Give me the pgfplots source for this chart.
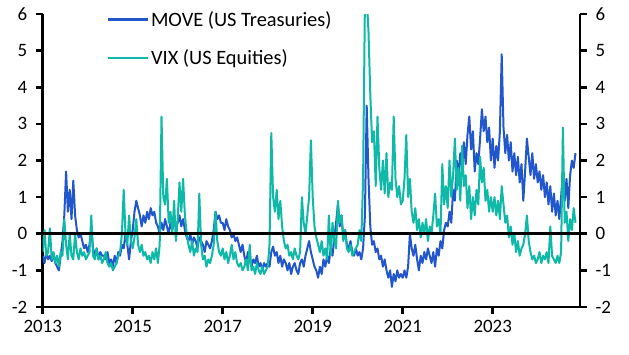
\documentclass[border=0pt]{standalone}
\usepackage{pgfplots}
\usepackage{pgfplotstable}
\pgfplotsset{compat=1.18}
\usepackage{fontspec}
\setmainfont{Carlito}
\definecolor{moveblue}{RGB}{33,86,204}
\definecolor{vixteal}{RGB}{14,185,168}

\pgfplotstableread{
t m v
2013.00 -0.6 -0.5
2013.04 -0.8 0.1
2013.08 -0.5 -0.6
2013.12 -0.7 -0.5
2013.16 -0.6 0.15
2013.20 -0.75 -0.7
2013.24 -0.55 -0.5
2013.28 -0.8 -0.8
2013.32 -0.9 -0.6
2013.36 -1.0 -0.9
2013.40 -0.6 -0.5
2013.44 -0.2 -0.6
2013.48 0.5 0.4
2013.52 1.7 -0.3
2013.56 0.6 -0.7
2013.60 1.2 0.0
2013.64 0.4 -0.6
2013.68 1.45 -0.7
2013.72 0.5 0.0
2013.76 0.1 -0.5
2013.80 -0.1 -0.7
2013.84 0.0 -0.4
2013.88 -0.2 -0.6
2013.92 -0.4 -0.5
2013.96 -0.3 -0.7
2014.00 -0.5 -0.6
2014.04 -0.3 -0.5
2014.08 0.1 0.5
2014.12 -0.4 -0.6
2014.16 -0.6 -0.7
2014.20 -0.4 -0.4
2014.24 -0.7 -0.7
2014.28 -0.5 -0.6
2014.32 -0.6 -0.8
2014.36 -0.6 -0.7
2014.40 -0.7 -0.5
2014.44 -0.5 -0.8
2014.48 -0.8 -0.9
2014.52 -0.7 -0.8
2014.56 -0.9 -1.0
2014.60 -0.6 -0.9
2014.64 -0.8 -0.8
2014.68 -0.5 -0.6
2014.72 -0.6 -0.5
2014.76 -0.3 0.0
2014.80 -0.4 1.2
2014.84 0.0 0.0
2014.88 -0.3 -0.3
2014.92 -0.7 0.5
2014.96 -0.2 -0.2
2015.00 0.1 -0.4
2015.04 0.6 -0.1
2015.08 0.9 0.4
2015.12 0.7 -0.3
2015.16 0.5 -0.5
2015.20 0.2 -0.3
2015.24 0.5 -0.6
2015.28 0.3 -0.5
2015.32 0.6 -0.7
2015.36 0.4 -0.6
2015.40 0.7 -0.8
2015.44 0.5 -0.5
2015.48 0.6 -0.7
2015.52 0.3 -0.4
2015.56 0.2 -0.8
2015.60 0.0 -0.3
2015.64 0.3 3.2
2015.68 0.1 1.0
2015.72 0.4 0.8
2015.76 0.2 1.5
2015.80 0.0 0.3
2015.84 0.3 0.6
2015.88 0.1 0.0
2015.92 0.4 0.9
2015.96 0.2 -0.2
2016.00 0.3 0.4
2016.04 0.5 1.4
2016.08 0.2 0.6
2016.12 0.4 1.5
2016.16 0.1 0.5
2016.20 -0.1 0.0
2016.24 -0.2 -0.3
2016.28 0.0 -0.5
2016.32 -0.3 -0.2
2016.36 -0.1 -0.6
2016.40 -0.2 -0.4
2016.44 -0.4 -0.5
2016.48 -0.1 1.1
2016.52 -0.2 -0.3
2016.56 -0.3 -0.7
2016.60 -0.5 -0.6
2016.64 -0.2 -0.9
2016.68 -0.3 -0.7
2016.72 -0.4 -0.8
2016.76 -0.2 -0.6
2016.80 0.1 -0.3
2016.84 0.6 0.6
2016.88 0.4 -0.2
2016.92 0.5 -0.5
2016.96 0.3 -0.6
2017.00 0.3 -0.4
2017.04 0.1 -0.7
2017.08 0.4 -0.5
2017.12 0.2 -0.8
2017.16 0.1 -0.6
2017.20 -0.1 -0.3
2017.24 0.0 -0.7
2017.28 -0.2 -0.5
2017.32 -0.1 -0.8
2017.36 -0.3 -0.9
2017.40 -0.5 -0.8
2017.44 -0.3 -1.0
2017.48 -0.6 -0.9
2017.52 -0.8 -0.7
2017.56 -0.5 -1.0
2017.60 -0.7 -0.3
2017.64 -0.9 -1.0
2017.68 -0.7 -0.9
2017.72 -0.8 -1.1
2017.76 -0.6 -0.8
2017.80 -0.9 -1.0
2017.84 -0.8 -1.1
2017.88 -1.0 -0.9
2017.92 -0.8 -1.1
2017.96 -0.9 -1.0
2018.00 -0.8 -0.9
2018.04 -0.9 -0.3
2018.08 -0.5 2.75
2018.12 -0.35 1.0
2018.16 -0.6 0.6
2018.20 -0.5 1.2
2018.24 -0.8 0.4
2018.28 -0.6 0.9
2018.32 -0.9 0.2
2018.36 -0.7 -0.2
2018.40 -0.8 -0.4
2018.44 -1.0 -0.3
2018.48 -0.8 -0.6
2018.52 -1.1 -0.5
2018.56 -0.9 -0.7
2018.60 -0.8 -0.4
2018.64 -1.0 -0.6
2018.68 -1.1 -0.7
2018.72 -0.8 -0.5
2018.76 -0.7 1.0
2018.80 -0.9 0.3
2018.84 -0.6 0.0
2018.88 -0.4 0.5
2018.92 -0.2 1.0
2018.96 -0.5 2.55
2019.00 -0.7 1.0
2019.04 -0.9 0.2
2019.08 -1.0 -0.1
2019.12 -1.2 -0.3
2019.16 -0.9 -0.5
2019.20 -1.1 -0.2
2019.24 -0.7 -0.6
2019.28 -0.9 -0.4
2019.32 -0.6 -0.7
2019.36 -0.8 0.5
2019.40 -0.4 -0.6
2019.44 -0.6 0.3
2019.48 -0.1 -0.2
2019.52 0.3 -0.4
2019.56 0.8 0.9
2019.60 0.2 0.3
2019.64 0.5 0.5
2019.68 -0.1 -0.2
2019.72 0.1 0.1
2019.76 -0.3 -0.4
2019.80 -0.4 -0.5
2019.84 -0.2 -0.3
2019.88 -0.5 -0.6
2019.92 -0.6 -0.5
2019.96 -0.4 -0.4
2020.00 -0.6 -0.3
2020.04 -0.5 0.1
2020.08 -0.7 -0.2
2020.12 -0.4 1.5
2020.16 0.5 6.3
2020.20 3.5 6.5
2020.24 1.5 5.5
2020.28 0.2 3.8
2020.32 -0.3 2.5
2020.36 -0.2 2.8
2020.40 -0.5 1.3
2020.44 -0.4 3.2
2020.48 -0.7 1.8
2020.52 -0.6 1.2
2020.56 -0.9 2.0
2020.60 -0.7 1.1
2020.64 -1.0 2.2
2020.68 -1.2 1.0
2020.72 -1.0 1.4
2020.76 -1.45 1.2
2020.80 -1.1 3.2
2020.84 -1.3 1.5
2020.88 -1.0 1.0
2020.92 -1.2 1.3
2020.96 -1.1 0.8
2021.00 -1.2 0.9
2021.04 -1.0 1.5
2021.08 -1.2 2.7
2021.12 -0.9 1.0
2021.16 0.0 1.5
2021.20 -0.4 0.6
2021.24 -0.6 0.3
2021.28 -0.3 0.7
2021.32 -0.7 0.1
2021.36 -1.0 0.4
2021.40 -0.6 -0.1
2021.44 -0.8 0.3
2021.48 -0.5 0.0
2021.52 -0.7 0.4
2021.56 -0.4 -0.2
2021.60 -0.6 0.2
2021.64 -0.8 0.0
2021.68 -0.5 0.5
2021.72 -0.9 1.1
2021.76 -0.4 0.2
2021.80 -0.6 0.4
2021.84 -0.2 0.0
2021.88 -0.4 1.9
2021.92 0.1 0.8
2021.96 0.3 1.3
2022.00 0.2 0.7
2022.04 0.6 2.0
2022.08 0.3 1.0
2022.12 1.2 1.6
2022.16 0.9 2.6
2022.20 2.0 1.2
2022.24 1.6 1.8
2022.28 2.2 0.9
2022.32 1.8 2.4
2022.36 2.5 1.3
2022.40 1.9 1.6
2022.44 2.7 0.7
2022.48 3.2 1.3
2022.52 2.3 0.4
2022.56 2.8 1.0
2022.60 1.7 0.5
2022.64 2.2 1.2
2022.68 1.9 0.8
2022.72 2.6 2.1
2022.76 3.4 1.4
2022.80 2.8 1.8
2022.84 3.2 0.9
2022.88 2.5 1.2
2022.92 2.9 0.6
2022.96 2.0 1.0
2023.00 2.6 0.6
2023.04 1.8 1.0
2023.08 2.4 0.5
2023.12 2.0 0.9
2023.16 2.8 0.4
2023.20 4.9 1.3
2023.24 2.9 0.8
2023.28 2.2 0.3
2023.32 2.7 0.5
2023.36 2.0 -0.1
2023.40 2.5 0.2
2023.44 1.7 -0.3
2023.48 2.2 0.0
2023.52 1.6 -0.5
2023.56 2.1 -0.2
2023.60 1.4 -0.6
2023.64 1.9 -0.4
2023.68 0.9 -0.3
2023.72 1.7 0.0
2023.76 2.6 0.5
2023.80 2.1 -0.2
2023.84 1.6 -0.5
2023.88 2.2 -0.7
2023.92 1.5 -0.6
2023.96 1.9 -0.8
2024.00 1.4 -0.7
2024.04 1.7 -0.5
2024.08 1.2 -0.8
2024.12 1.6 -0.6
2024.16 1.0 -0.7
2024.20 1.4 -0.5
2024.24 0.8 -0.8
2024.28 1.3 0.2
2024.32 0.6 -0.6
2024.36 1.1 -0.7
2024.40 0.5 -0.8
2024.44 0.9 -0.6
2024.48 0.4 -0.8
2024.52 1.0 -0.5
2024.56 1.7 2.9
2024.60 0.9 0.3
2024.64 1.5 0.6
2024.68 0.7 -0.2
2024.72 1.6 0.4
2024.76 2.0 0.1
2024.80 1.8 0.7
2024.84 2.2 0.3
}\data

\begin{document}
\begin{tikzpicture}
\path[use as bounding box] (-42.7bp,-48bp) rectangle (586.3bp,307bp);
\pgfplotsset{
  common/.style={
    scale only axis, width=537.3bp, height=293bp,
    xmin=2013, xmax=2024.94, ymin=-2, ymax=6,
    font=\fontsize{19}{22}\selectfont,
    tick align=outside, major tick length=7bp,
    tick style={black, line width=2.6bp},
    axis line style={black, line width=2.6bp},
    /pgf/number format/assume math mode=true,
    ytick={-2,-1,0,1,2,3,4,5,6},
  }
}
\begin{axis}[common,
  separate axis lines,
  axis x line*=bottom, axis y line*=left,
  xtick={2013,2015,2017,2019,2021,2023},
  xticklabel style={yshift=-3bp},
  xticklabel={\pgfmathprintnumber[1000 sep={},fixed]{\tick}},
  yticklabel style={xshift=-5bp},
  legend style={draw=none, fill=none, at={(rel axis cs:0.119,1)}, anchor=north west,
    yshift=5bp,
    font=\fontsize{20.5}{23}\selectfont, row sep=18bp, inner sep=0pt},
  legend cell align=left,
  legend image code/.code={\draw[#1, line width=2.2bp] (0bp,0bp) -- (40bp,0bp);},
]
\addplot[moveblue, line width=2bp, line join=round] table[x=t,y=m] {\data};
\addlegendentry{MOVE (US Treasuries)}
\addplot[vixteal, line width=2bp, line join=round] table[x=t,y=v] {\data};
\addlegendentry{VIX (US Equities)}
\addplot[black, line width=2.6bp, forget plot] coordinates {(2013,0) (2024.94,0)};
\end{axis}
\begin{axis}[common,
  axis x line=none, axis y line*=right,
  yticklabel style={xshift=5bp},
]
\end{axis}
\end{tikzpicture}
\end{document}
